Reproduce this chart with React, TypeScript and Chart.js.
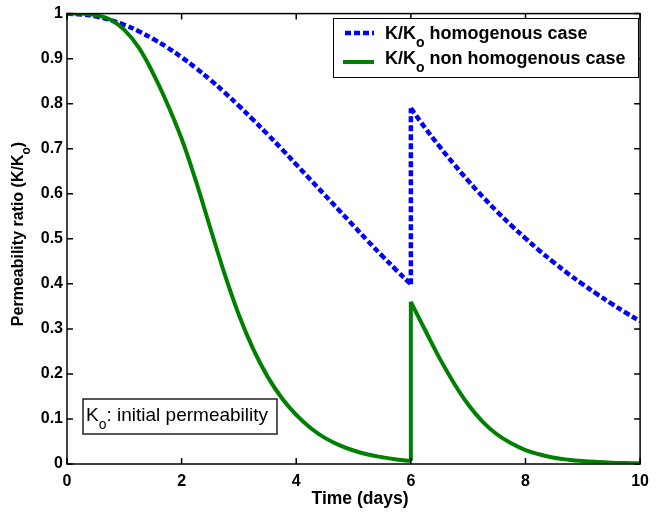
import { useEffect, useRef } from 'react';
import { Chart, registerables } from 'chart.js';

Chart.register(...registerables);

const FONT = '"Liberation Sans", Arial, Helvetica, sans-serif';

// Time (days) before and after the treatment at day 6
const timeBefore = [
  0, 0.25, 0.5, 0.75, 1, 1.25, 1.5, 1.75, 2, 2.25, 2.5, 2.75, 3,
  3.25, 3.5, 3.75, 4, 4.25, 4.5, 4.75, 5, 5.25, 5.5, 5.75, 6,
];
const timeAfter = [
  6, 6.25, 6.5, 6.75, 7, 7.25, 7.5, 7.75, 8, 8.25, 8.5, 8.75, 9,
  9.25, 9.5, 9.75, 10,
];

// K/Ko, homogenous case
const homogBefore = [
  1.0, 0.998, 0.994, 0.986, 0.975, 0.961, 0.944, 0.925, 0.903, 0.879,
  0.853, 0.825, 0.795, 0.764, 0.732, 0.699, 0.665, 0.631, 0.597, 0.563,
  0.529, 0.495, 0.462, 0.43, 0.399,
];
const homogAfter = [
  0.79, 0.746, 0.705, 0.666, 0.629, 0.594, 0.561, 0.53, 0.501, 0.473,
  0.447, 0.422, 0.399, 0.377, 0.356, 0.336, 0.317,
];

// K/Ko, non homogenous case
const nonHomogBefore = [
  1.0, 1.0, 0.997, 0.987, 0.964, 0.925, 0.868, 0.8, 0.722, 0.628, 0.524,
  0.422, 0.331, 0.255, 0.194, 0.146, 0.109, 0.08, 0.058, 0.042, 0.03,
  0.021, 0.015, 0.01, 0.007,
];
const nonHomogAfter = [
  0.36, 0.297, 0.235, 0.18, 0.132, 0.094, 0.066, 0.046, 0.031, 0.021,
  0.014, 0.0095, 0.0065, 0.0045, 0.003, 0.002, 0.0015,
];

const xTicks = [0, 2, 4, 6, 8, 10];
const xTickLabels = ['0', '2', '4', '6', '8', '10'];
const yTicks = [0, 0.1, 0.2, 0.3, 0.4, 0.5, 0.6, 0.7, 0.8, 0.9, 1];
const yTickLabels = ['0', '0.1', '0.2', '0.3', '0.4', '0.5', '0.6', '0.7', '0.8', '0.9', '1'];

const seriesNames = ['homogenous case', 'non homogenous case'];
const BLUE = '#0000ff';
const GREEN = '#008000';

type Part = { text: string; sub?: boolean };

function richWidth(ctx: CanvasRenderingContext2D, parts: Part[], size: number, weight: string) {
  let w = 0;
  for (const p of parts) {
    const s = p.sub ? Math.round(size * 0.75) : size;
    ctx.font = `${weight} ${s}px ${FONT}`;
    w += ctx.measureText(p.text).width;
  }
  return w;
}

function drawRich(
  ctx: CanvasRenderingContext2D,
  parts: Part[],
  x: number,
  y: number,
  size: number,
  weight: string,
) {
  let cx = x;
  ctx.textAlign = 'left';
  ctx.textBaseline = 'alphabetic';
  for (const p of parts) {
    const s = p.sub ? Math.round(size * 0.75) : size;
    ctx.font = `${weight} ${s}px ${FONT}`;
    ctx.fillText(p.text, cx, p.sub ? y + size * 0.42 : y);
    cx += ctx.measureText(p.text).width;
  }
  return cx - x;
}

const decorations = {
  id: 'decorations',
  afterDraw(chart: Chart) {
    const ctx = chart.ctx;
    const { left, right, top, bottom } = chart.chartArea;
    const xs = chart.scales.x;
    const ys = chart.scales.y;
    ctx.save();

    // axes box
    ctx.strokeStyle = '#000';
    ctx.lineWidth = 1.5;
    ctx.strokeRect(left, top, right - left, bottom - top);

    // inward tick marks on all four sides
    const tl = 6;
    ctx.beginPath();
    for (const v of xTicks) {
      const px = xs.getPixelForValue(v);
      ctx.moveTo(px, bottom);
      ctx.lineTo(px, bottom - tl);
      ctx.moveTo(px, top);
      ctx.lineTo(px, top + tl);
    }
    for (const v of yTicks) {
      const py = ys.getPixelForValue(v);
      ctx.moveTo(left, py);
      ctx.lineTo(left + tl, py);
      ctx.moveTo(right, py);
      ctx.lineTo(right - tl, py);
    }
    ctx.stroke();

    // legend
    const lx = 333, ly = 18, lw = 305, lh = 59;
    ctx.fillStyle = '#fff';
    ctx.fillRect(lx, ly, lw, lh);
    ctx.strokeStyle = '#000';
    ctx.lineWidth = 1;
    ctx.strokeRect(lx + 0.5, ly + 0.5, lw, lh);

    ctx.lineCap = 'butt';
    ctx.strokeStyle = BLUE;
    ctx.lineWidth = 4.5;
    ctx.setLineDash([6, 3]);
    ctx.beginPath();
    ctx.moveTo(345, 33);
    ctx.lineTo(374, 33);
    ctx.stroke();
    ctx.setLineDash([]);
    ctx.strokeStyle = GREEN;
    ctx.lineWidth = 4;
    ctx.beginPath();
    ctx.moveTo(343, 62);
    ctx.lineTo(374, 62);
    ctx.stroke();

    ctx.fillStyle = '#000';
    drawRich(ctx, [{ text: 'K/K' }, { text: 'o', sub: true }, { text: ' ' + seriesNames[0] }], 385, 39, 18, 'bold');
    drawRich(ctx, [{ text: 'K/K' }, { text: 'o', sub: true }, { text: ' ' + seriesNames[1] }], 385, 64, 18, 'bold');

    // note box
    ctx.fillStyle = '#fff';
    ctx.fillRect(83, 399, 194, 35);
    ctx.strokeStyle = '#222';
    ctx.lineWidth = 1.5;
    ctx.strokeRect(83, 399, 194, 35);
    ctx.fillStyle = '#000';
    drawRich(ctx, [{ text: 'K' }, { text: 'o', sub: true }, { text: ': initial permeability' }], 86, 421, 19, 'normal');

    // x axis title
    ctx.fillStyle = '#000';
    ctx.font = `bold 17.5px ${FONT}`;
    ctx.textAlign = 'center';
    ctx.textBaseline = 'alphabetic';
    ctx.fillText('Time (days)', 360, 504);

    // y axis title
    const yParts: Part[] = [{ text: 'Permeability ratio (K/K' }, { text: 'o', sub: true }, { text: ')' }];
    const yw = richWidth(ctx, yParts, 16, 'bold');
    ctx.save();
    ctx.translate(23, 234);
    ctx.rotate(-Math.PI / 2);
    drawRich(ctx, yParts, -yw / 2, 0, 16, 'bold');
    ctx.restore();

    ctx.restore();
  },
};

export default function App() {
  const canvasRef = useRef<HTMLCanvasElement | null>(null);

  useEffect(() => {
    document.body.style.margin = '0';
    const canvas = canvasRef.current;
    if (!canvas) return;

    const pts = (xs: number[], ys: number[]) => xs.map((t, i) => ({ x: t, y: ys[i] }));
    const jump = (before: number[], after: number[]) => [
      { x: timeBefore[timeBefore.length - 1], y: before[before.length - 1] },
      { x: timeAfter[0], y: after[0] },
    ];

    const green = { borderColor: GREEN, borderWidth: 4, pointRadius: 0, tension: 0.4, order: 0 };
    const blue = {
      borderColor: BLUE,
      borderWidth: 4.5,
      borderDash: [6, 3],
      pointRadius: 0,
      tension: 0.4,
      order: 1,
    };

    const chart = new Chart(canvas, {
      type: 'line',
      data: {
        datasets: [
          { label: 'K/Ko ' + seriesNames[1], data: pts(timeBefore, nonHomogBefore), ...green },
          { label: 'K/Ko ' + seriesNames[1] + ' (day 6)', data: jump(nonHomogBefore, nonHomogAfter), ...green, tension: 0 },
          { label: 'K/Ko ' + seriesNames[1] + ' (after)', data: pts(timeAfter, nonHomogAfter), ...green },
          { label: 'K/Ko ' + seriesNames[0], data: pts(timeBefore, homogBefore), ...blue },
          { label: 'K/Ko ' + seriesNames[0] + ' (day 6)', data: jump(homogBefore, homogAfter), ...blue, tension: 0 },
          { label: 'K/Ko ' + seriesNames[0] + ' (after)', data: pts(timeAfter, homogAfter), ...blue },
        ] as any,
      },
      options: {
        responsive: false,
        animation: false,
        parsing: false,
        layout: { padding: { top: 12, right: 14, left: 0, bottom: 0 } },
        plugins: {
          legend: { display: false },
          tooltip: { enabled: false },
        },
        scales: {
          x: {
            type: 'linear',
            min: 0,
            max: 10,
            grid: { display: false, drawTicks: false },
            border: { display: false },
            afterBuildTicks: (scale: any) => {
              scale.ticks = xTicks.map((v) => ({ value: v }));
            },
            afterFit: (scale: any) => {
              scale.height = 49;
            },
            ticks: {
              color: '#000',
              padding: 8,
              maxRotation: 0,
              font: { family: FONT, size: 16, weight: 'bold' },
              callback: (v: any) => xTickLabels[xTicks.indexOf(Number(v))] ?? '',
            },
          },
          y: {
            type: 'linear',
            min: 0,
            max: 1,
            grid: { display: false, drawTicks: false },
            border: { display: false },
            afterBuildTicks: (scale: any) => {
              scale.ticks = yTicks.map((v) => ({ value: v }));
            },
            afterFit: (scale: any) => {
              scale.width = 67;
            },
            ticks: {
              color: '#000',
              padding: 4,
              font: { family: FONT, size: 16, weight: 'bold' },
              callback: (v: any) => {
                const i = yTicks.findIndex((t) => Math.abs(t - Number(v)) < 1e-6);
                return i >= 0 ? yTickLabels[i] : '';
              },
            },
          },
        },
      },
      plugins: [decorations],
    });

    return () => chart.destroy();
  }, []);

  return (
    <div style={{ width: 657, height: 513, background: '#fff' }}>
      <canvas ref={canvasRef} width={657} height={513} style={{ display: 'block' }} />
    </div>
  );
}
